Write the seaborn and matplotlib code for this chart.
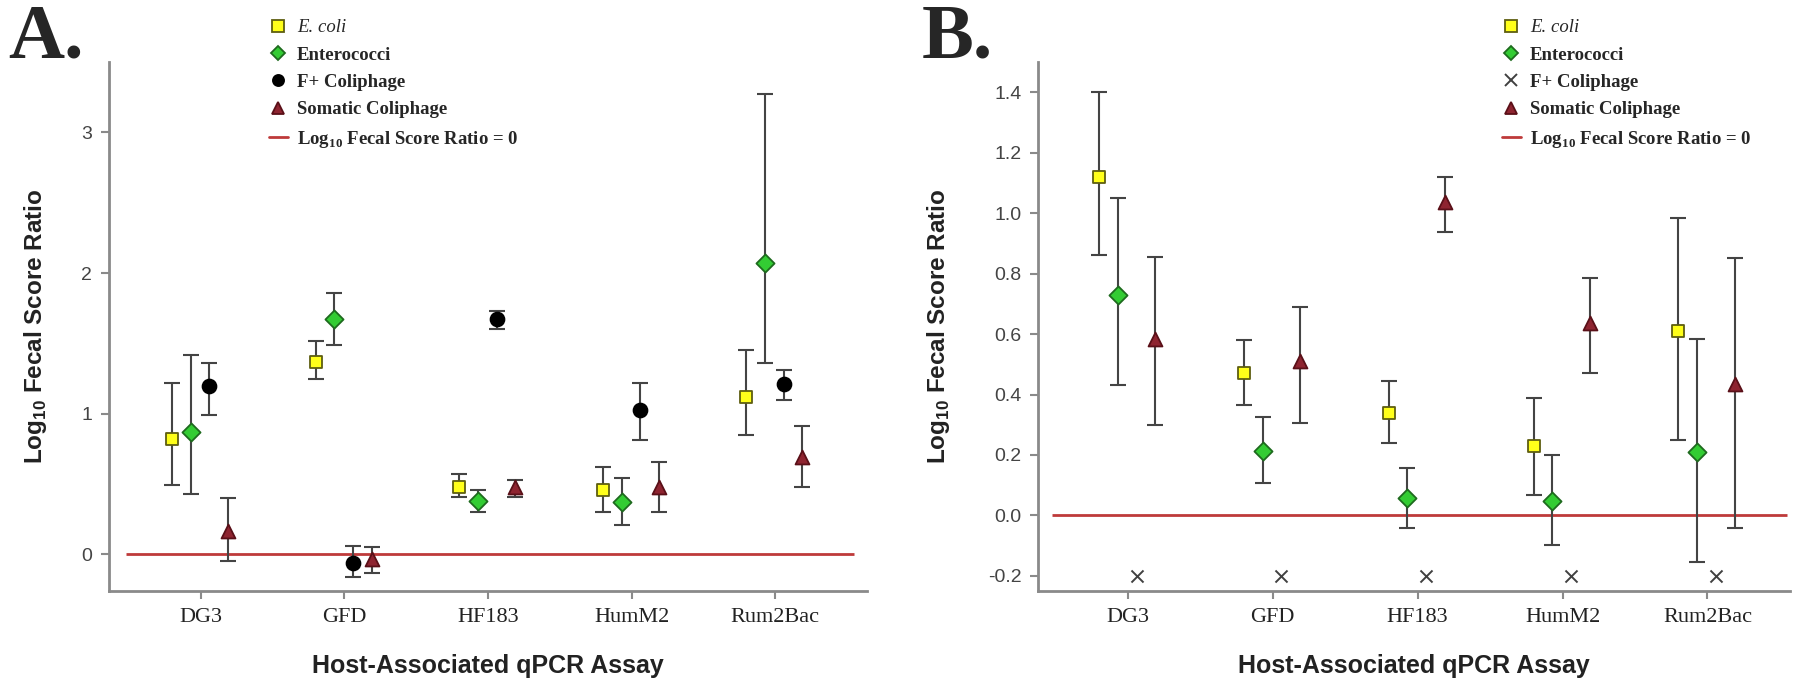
import numpy as np
import pandas as pd
import matplotlib
matplotlib.use("Agg")
import matplotlib.pyplot as plt
import seaborn as sns
from matplotlib.lines import Line2D

assays = ["DG3", "GFD", "HF183", "HumM2", "Rum2Bac"]
indicators = ["E. coli", "Enterococci", "F+ Coliphage", "Somatic Coliphage"]

# Panel A values (mean, upper, lower)
a_ecoli = [0.82, 1.37, 0.48, 0.46, 1.12]
a_ecoli_hi = [1.22, 1.52, 0.57, 0.62, 1.45]
a_ecoli_lo = [0.49, 1.25, 0.41, 0.30, 0.85]
a_entero = [0.87, 1.67, 0.38, 0.37, 2.07]
a_entero_hi = [1.42, 1.86, 0.46, 0.54, 3.27]
a_entero_lo = [0.43, 1.49, 0.30, 0.21, 1.36]
a_fplus = [1.20, -0.06, 1.67, 1.03, 1.21]
a_fplus_hi = [1.36, 0.06, 1.73, 1.22, 1.31]
a_fplus_lo = [0.99, -0.16, 1.60, 0.81, 1.10]
a_somatic = [0.17, -0.03, 0.48, 0.48, 0.69]
a_somatic_hi = [0.40, 0.05, 0.53, 0.66, 0.91]
a_somatic_lo = [-0.05, -0.13, 0.41, 0.30, 0.48]

# Panel B values
b_ecoli = [1.12, 0.47, 0.34, 0.23, 0.61]
b_ecoli_hi = [1.40, 0.58, 0.445, 0.39, 0.985]
b_ecoli_lo = [0.86, 0.365, 0.24, 0.068, 0.25]
b_entero = [0.73, 0.214, 0.058, 0.049, 0.209]
b_entero_hi = [1.05, 0.324, 0.158, 0.20, 0.583]
b_entero_lo = [0.43, 0.106, -0.04, -0.098, -0.155]
b_fplus = [-0.2, -0.2, -0.2, -0.2, -0.2]
b_somatic = [0.585, 0.51, 1.036, 0.636, 0.435]
b_somatic_hi = [0.856, 0.69, 1.118, 0.787, 0.852]
b_somatic_lo = [0.30, 0.305, 0.938, 0.47, -0.04]

a_ticks = [0, 1, 2, 3]
b_ticks = [-0.2, 0.0, 0.2, 0.4, 0.6, 0.8, 1.0, 1.2, 1.4]


def long_table(series):
    rows = []
    for ind, (vals, hi, lo) in zip(indicators, series):
        for i, assay in enumerate(assays):
            rows.append({"assay": assay, "pos": i, "indicator": ind, "value": vals[i],
                         "hi": hi[i] if hi is not None else np.nan,
                         "lo": lo[i] if lo is not None else np.nan})
    return pd.DataFrame(rows)


df_a = long_table([(a_ecoli, a_ecoli_hi, a_ecoli_lo), (a_entero, a_entero_hi, a_entero_lo),
                   (a_fplus, a_fplus_hi, a_fplus_lo), (a_somatic, a_somatic_hi, a_somatic_lo)])
df_b = long_table([(b_ecoli, b_ecoli_hi, b_ecoli_lo), (b_entero, b_entero_hi, b_entero_lo),
                   (b_fplus, None, None), (b_somatic, b_somatic_hi, b_somatic_lo)])

sns.set_theme(style="ticks")
plt.rcParams["font.family"] = ["Liberation Sans", "DejaVu Sans"]
plt.rcParams["mathtext.fontset"] = "custom"
plt.rcParams["mathtext.bf"] = "Liberation Sans:bold"
plt.rcParams["mathtext.rm"] = "Liberation Serif:bold"

offsets = {"E. coli": -0.2, "Enterococci": -0.07, "F+ Coliphage": 0.06, "Somatic Coliphage": 0.19}
face = {"E. coli": "#FFFF1A", "Enterococci": "#33CC33", "F+ Coliphage": "#000000",
        "Somatic Coliphage": "#8E2430"}
edge = {"E. coli": "#5E5E10", "Enterococci": "#1E6A1E", "F+ Coliphage": "#000000",
        "Somatic Coliphage": "#5A1018"}
sizes = {"E. coli": 80, "Enterococci": 85, "F+ Coliphage": 100, "Somatic Coliphage": 100}
red = "#BE3A3A"
spine_gray = "#8A8A8A"

fig = plt.figure(figsize=(18, 6.84), dpi=100)
ax_a = fig.add_axes([109 / 1800, 93 / 684, 758 / 1800, 529 / 684])
ax_b = fig.add_axes([1038 / 1800, 93 / 684, 752 / 1800, 529 / 684])


def draw_panel(ax, df, markers, ylim, xlim, yticks, yfmt, ylab_x):
    ax.hlines(0, -0.52, 4.55, color=red, lw=2, zorder=1)
    for ind in indicators:
        sub = df[df["indicator"] == ind].copy()
        sub["x"] = sub["pos"] + offsets[ind]
        err = sub.dropna(subset=["hi"])
        if len(err):
            ax.errorbar(err["x"], err["value"],
                        yerr=[err["value"] - err["lo"], err["hi"] - err["value"]],
                        fmt="none", ecolor="#444444", elinewidth=1.5, capsize=6,
                        capthick=1.5, zorder=2)
        m = markers[ind]
        if m == "x":
            sns.scatterplot(data=sub, x="x", y="value", marker="x", color="#404040",
                            s=75, linewidth=1.4, ax=ax, zorder=3, legend=False)
        else:
            sns.scatterplot(data=sub, x="x", y="value", marker=m, color=face[ind],
                            edgecolor=edge[ind], linewidth=1.3, s=sizes[ind], ax=ax,
                            zorder=3, legend=False)
    ax.set_xlim(*xlim)
    ax.set_ylim(*ylim)
    ax.set_xticks(range(len(assays)))
    ax.set_xticklabels(assays, fontfamily="Liberation Serif", fontsize=16, color="#222222")
    ax.set_yticks(yticks)
    ax.set_yticklabels([yfmt.format(t) for t in yticks], fontsize=14, color="#444444")
    ax.tick_params(axis="both", direction="out", length=6, width=1.5, color=spine_gray, pad=6)
    for s in ["left", "bottom"]:
        ax.spines[s].set_color(spine_gray)
        ax.spines[s].set_linewidth(2)
    sns.despine(ax=ax)
    ax.set_xlabel("Host-Associated qPCR Assay", fontsize=18, fontweight="bold", color="#222222")
    ax.set_ylabel(r"Log$_{\mathbf{10}}$ Fecal Score Ratio", fontsize=17.5, fontweight="bold",
                  color="#222222")
    ax.xaxis.set_label_coords(0.5, -0.12)
    ax.yaxis.set_label_coords(ylab_x, 0.5)


markers_a = {"E. coli": "s", "Enterococci": "D", "F+ Coliphage": "o", "Somatic Coliphage": "^"}
markers_b = {"E. coli": "s", "Enterococci": "D", "F+ Coliphage": "x", "Somatic Coliphage": "^"}

draw_panel(ax_a, df_a, markers_a, (-0.26, 3.5), (-0.64, 4.64), a_ticks, "{:.0f}", -0.079)
draw_panel(ax_b, df_b, markers_b, (-0.25, 1.5), (-0.62, 4.57), b_ticks, "{:.1f}", -0.115)


def add_legend(markers, left):
    handles = []
    for ind in indicators:
        m = markers[ind]
        if m == "x":
            handles.append(Line2D([], [], ls="none", marker="x", color="#404040",
                                  markersize=8, markeredgewidth=1.4))
        else:
            handles.append(Line2D([], [], ls="none", marker=m, markerfacecolor=face[ind],
                                  markeredgecolor=edge[ind], markeredgewidth=1.3,
                                  markersize=8 if m != "D" else 7.5))
    handles.append(Line2D([], [], color=red, lw=2))
    labels = ["E. coli", "Enterococci", "F+ Coliphage", "Somatic Coliphage",
              r"Log$_{\mathrm{10}}$ Fecal Score Ratio = 0"]
    leg = fig.legend(handles, labels, loc="upper left", bbox_to_anchor=(left, 1 - 19 / 684),
                     frameon=False, borderpad=0, borderaxespad=0, handlelength=1.0,
                     handletextpad=0.5, labelspacing=0.55,
                     prop={"family": "Liberation Serif", "weight": "bold", "size": 13.5})
    texts = leg.get_texts()
    texts[0].set_style("italic")
    texts[0].set_fontweight("normal")
    return leg


add_legend(markers_a, 269 / 1800)
add_legend(markers_b, 1502 / 1800)

fig.text(8 / 1800, 1 - 4 / 684, "A.", fontsize=56, fontweight="bold",
         fontfamily="Liberation Serif", va="top", ha="left")
fig.text(922 / 1800, 1 - 4 / 684, "B.", fontsize=56, fontweight="bold",
         fontfamily="Liberation Serif", va="top", ha="left")

fig.savefig("out.png", dpi=100)
